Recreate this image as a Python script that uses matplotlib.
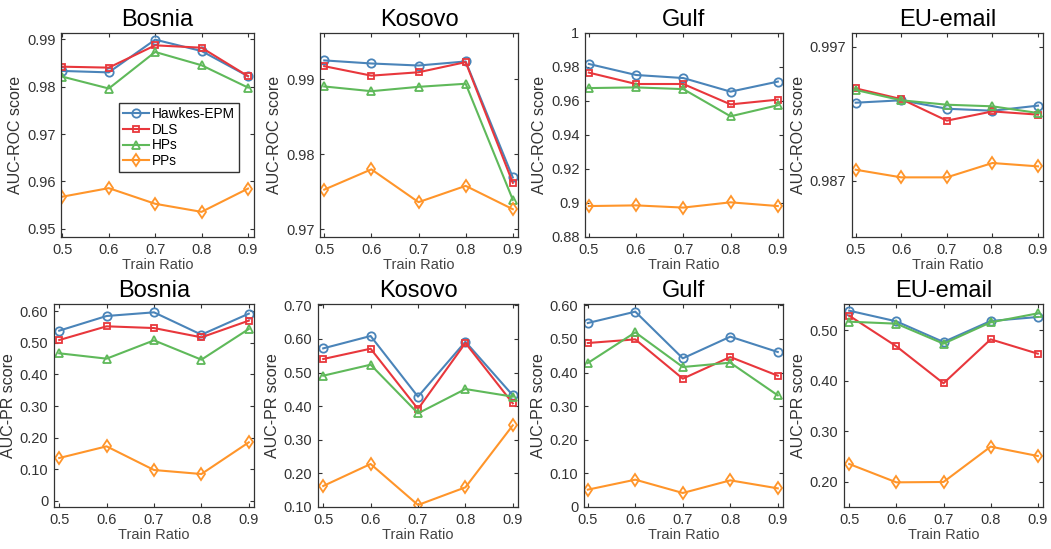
import matplotlib
matplotlib.use('Agg')
import matplotlib.pyplot as plt
import numpy as np

plt.rcParams['font.family'] = ['Liberation Sans', 'DejaVu Sans']

ratios = [0.5, 0.6, 0.7, 0.8, 0.9]
methods = ['Hawkes-EPM', 'DLS', 'HPs', 'PPs']
datasets = ['Bosnia', 'Kosovo', 'Gulf', 'EU-email']

# AUC-ROC, one row per method (Hawkes-EPM, DLS, HPs, PPs)
roc_bosnia = [[0.9833, 0.9830, 0.9899, 0.9875, 0.9822],
              [0.9842, 0.9840, 0.9887, 0.9882, 0.9822],
              [0.9821, 0.9796, 0.9873, 0.9845, 0.9798],
              [0.9568, 0.9586, 0.9553, 0.9536, 0.9585]]
roc_kosovo = [[0.99248, 0.99207, 0.99180, 0.99234, 0.97689],
              [0.99171, 0.99045, 0.99090, 0.99225, 0.97617],
              [0.98901, 0.98838, 0.98896, 0.98937, 0.97392],
              [0.97527, 0.97797, 0.97360, 0.97577, 0.97266]]
roc_gulf = [[0.9818, 0.9753, 0.9735, 0.9655, 0.9714],
            [0.9767, 0.9700, 0.9700, 0.9580, 0.9608],
            [0.9676, 0.9680, 0.9670, 0.9510, 0.9575],
            [0.8982, 0.8986, 0.8973, 0.9004, 0.8982]]
roc_eu = [[0.99282, 0.99300, 0.99237, 0.99222, 0.99260],
          [0.99389, 0.99309, 0.99148, 0.99217, 0.99193],
          [0.99377, 0.99300, 0.99267, 0.99255, 0.99205],
          [0.98782, 0.98725, 0.98725, 0.98832, 0.98807]]

# AUC-PR
pr_bosnia = [[0.5387, 0.5852, 0.5968, 0.5260, 0.5926],
             [0.5090, 0.5525, 0.5470, 0.5176, 0.5704],
             [0.4670, 0.4500, 0.5080, 0.4468, 0.5440],
             [0.1352, 0.1722, 0.0972, 0.0845, 0.1849]]
pr_kosovo = [[0.5720, 0.6088, 0.4283, 0.5918, 0.4322],
             [0.5403, 0.5710, 0.3916, 0.5880, 0.4084],
             [0.4907, 0.5234, 0.3787, 0.4510, 0.4283],
             [0.1625, 0.2280, 0.1060, 0.1585, 0.3430]]
pr_gulf = [[0.5474, 0.5812, 0.4423, 0.5068, 0.4612],
           [0.4879, 0.4988, 0.3818, 0.4463, 0.3907],
           [0.4284, 0.5197, 0.4165, 0.4294, 0.3322],
           [0.0516, 0.0813, 0.0417, 0.0793, 0.0555]]
pr_eu = [[0.5389, 0.5178, 0.4769, 0.5185, 0.5264],
         [0.5290, 0.4684, 0.3952, 0.4822, 0.4538],
         [0.5171, 0.5132, 0.4736, 0.5158, 0.5336],
         [0.2356, 0.1993, 0.2000, 0.2699, 0.2514]]

roc_ticks = [['0.95', '0.96', '0.97', '0.98', '0.99'],
             ['0.97', '0.98', '0.99'],
             ['0.88', '0.9', '0.92', '0.94', '0.96', '0.98', '1'],
             ['0.987', '0.997']]
pr_ticks = [['0', '0.10', '0.20', '0.30', '0.40', '0.50', '0.60'],
            ['0.10', '0.20', '0.30', '0.40', '0.50', '0.60', '0.70'],
            ['0', '0.10', '0.20', '0.30', '0.40', '0.50', '0.60'],
            ['0.20', '0.30', '0.40', '0.50']]

colors = ['#4a84b9', '#e8373c', '#5fb95a', '#ff952a']
markers = ['o', 's', '^', 'd']

# axes boxes in pixels (left, right) for each column, and y limits / x limits
W, H = 1051, 549
top_cols = [(61, 254), (320, 518), (585, 783), (852, 1043)]
bot_cols = [(54, 254), (318, 518), (584, 783), (844, 1043)]
top_ylims = [(0.9483, 0.9913), (0.96896, 0.99613), (0.88, 1.0), (0.9828, 0.99802)]
bot_ylims = [(-0.02, 0.6232), (0.10, 0.704), (0.0, 0.604), (0.1505, 0.5521)]
top_xlims = [(0.497, 0.913), (0.491, 0.911), (0.492, 0.911), (0.492, 0.911)]
bot_xlims = [(0.489, 0.911), (0.489, 0.911), (0.492, 0.911), (0.489, 0.911)]

fig = plt.figure(figsize=(W / 100, H / 100), dpi=100)

rows = [
    ([roc_bosnia, roc_kosovo, roc_gulf, roc_eu], roc_ticks, 'AUC-ROC score',
     top_cols, (33, 237), top_ylims, top_xlims),
    ([pr_bosnia, pr_kosovo, pr_gulf, pr_eu], pr_ticks, 'AUC-PR score',
     bot_cols, (304, 507), bot_ylims, bot_xlims),
]

axc = '#333333'
for r, (vals, ticks, ylab, cols, (yt, yb), ylims, xlims) in enumerate(rows):
    for c in range(4):
        x0, x1 = cols[c]
        ax = fig.add_axes([x0 / W, 1 - yb / H, (x1 - x0) / W, (yb - yt) / H])
        for m in range(4):
            ax.plot(ratios, vals[c][m], color=colors[m], marker=markers[m],
                    markersize=6 if markers[m] != 's' else 5,
                    markerfacecolor='none', markeredgewidth=1.3,
                    linewidth=1.5, label=methods[m])
        ax.set_xlim(*xlims[c])
        ax.set_ylim(*ylims[c])
        ax.set_xticks(ratios)
        ax.set_xticklabels(['0.5', '0.6', '0.7', '0.8', '0.9'])
        ax.set_yticks([float(t) for t in ticks[c]])
        ax.set_yticklabels(ticks[c])
        ax.tick_params(direction='in', top=True, right=True, length=3,
                       width=0.8, labelsize=10.5, colors=axc, pad=4)
        for s in ax.spines.values():
            s.set_color(axc)
            s.set_linewidth(0.9)
        ax.set_title(datasets[c], fontsize=17, pad=5)
        ax.set_xlabel('Train Ratio', fontsize=10.5, color='#444444', labelpad=1)
        ax.set_ylabel(ylab, fontsize=11.5, color=axc, labelpad=3)
        if r == 0 and c == 0:
            ax.legend(loc='upper left', bbox_to_anchor=(119 / W, 1 - 103 / H),
                      bbox_transform=fig.transFigure, fontsize=9.8,
                      fancybox=False, edgecolor=axc, framealpha=1,
                      handlelength=1.9, borderpad=0.3, labelspacing=0.12,
                      handletextpad=0.25, borderaxespad=0)

fig.savefig('out.png', dpi=100)
